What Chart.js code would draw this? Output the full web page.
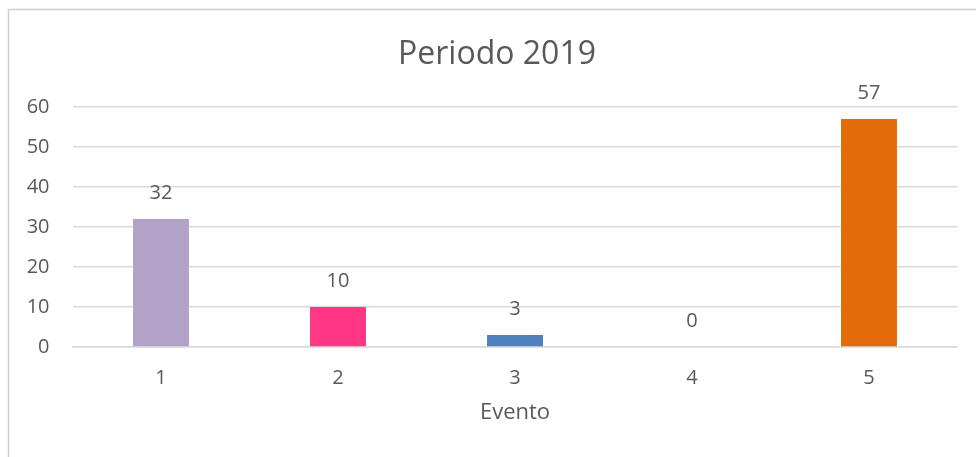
<!DOCTYPE html>
<html>
<head>
<meta charset="utf-8">
<script src="https://cdn.jsdelivr.net/npm/chart.js@4.4.0/dist/chart.umd.min.js"></script>
<style>
  html, body { margin: 0; padding: 0; background: #ffffff; }
  #wrap { position: relative; width: 976px; height: 457px; }
</style>
</head>
<body>
<div id="wrap"><canvas id="c" width="976" height="457"></canvas></div>
<script>
const categories = ['1', '2', '3', '4', '5'];
const values = [32, 10, 3, 0, 57];
const barColors = ['#B3A2C7', '#FF3785', '#4F81BD', '#7F7F7F', '#E36C0A'];
const titleText = 'Periodo 2019';
const xAxisTitle = 'Evento';

const textColor = '#595959';
const gridColor = '#D9D9D9';
const fontFamily = '"Open Sans", "Liberation Sans", sans-serif';

const frame = {
  id: 'frame',
  beforeDraw(chart) {
    const ctx = chart.ctx;
    ctx.save();
    ctx.fillStyle = '#ffffff';
    ctx.fillRect(0, 0, chart.width, chart.height);
    ctx.strokeStyle = '#D0D0D0';
    ctx.lineWidth = 1.5;
    ctx.beginPath();
    ctx.moveTo(8.5, chart.height);
    ctx.lineTo(8.5, 9.5);
    ctx.lineTo(chart.width, 9.5);
    ctx.stroke();
    ctx.restore();
  }
};

// Chart title, centred on the chart frame (which extends beyond the canvas on the right)
const frameTitle = {
  id: 'frameTitle',
  afterDraw(chart) {
    const ctx = chart.ctx;
    ctx.save();
    ctx.fillStyle = textColor;
    ctx.font = '32px ' + fontFamily;
    ctx.textAlign = 'center';
    ctx.textBaseline = 'alphabetic';
    ctx.fillText(titleText, 497, 64);
    ctx.restore();
  }
};

const valueLabels = {
  id: 'valueLabels',
  afterDatasetsDraw(chart) {
    const ctx = chart.ctx;
    const meta = chart.getDatasetMeta(0);
    ctx.save();
    ctx.fillStyle = textColor;
    ctx.font = '20px ' + fontFamily;
    ctx.textAlign = 'center';
    ctx.textBaseline = 'middle';
    meta.data.forEach((bar, i) => {
      ctx.fillText(String(values[i]), bar.x, bar.y - 26);
    });
    ctx.restore();
  }
};

new Chart(document.getElementById('c'), {
  type: 'bar',
  data: {
    labels: categories,
    datasets: [{
      data: values,
      backgroundColor: barColors,
      borderWidth: 0,
      barPercentage: 0.316,
      categoryPercentage: 1.0
    }]
  },
  options: {
    responsive: false,
    animation: false,
    layout: { padding: { left: 0, right: 18.5, top: 107, bottom: 0 } },
    plugins: {
      legend: { display: false },
      tooltip: { enabled: false },
      title: { display: false }
    },
    scales: {
      x: {
        grid: { display: false, drawTicks: false },
        border: { display: true, color: gridColor, width: 1.5 },
        ticks: {
          color: textColor,
          font: { family: fontFamily, size: 20, lineHeight: 1.2 },
          padding: 19
        },
        title: {
          display: true,
          text: xAxisTitle,
          color: textColor,
          font: { family: fontFamily, size: 22, lineHeight: 1.2 },
          padding: { top: 0, bottom: 30.8 }
        },
        afterFit(scale) { scale.height = 110; }
      },
      y: {
        min: 0,
        max: 60,
        grid: { color: gridColor, lineWidth: 1.5, drawTicks: false },
        border: { display: false },
        ticks: {
          stepSize: 10,
          color: textColor,
          font: { family: fontFamily, size: 20, lineHeight: 1.2 },
          padding: 23
        },
        afterFit(scale) { scale.width = 72.5; }
      }
    }
  },
  plugins: [frame, valueLabels, frameTitle]
});
</script>
</body>
</html>
